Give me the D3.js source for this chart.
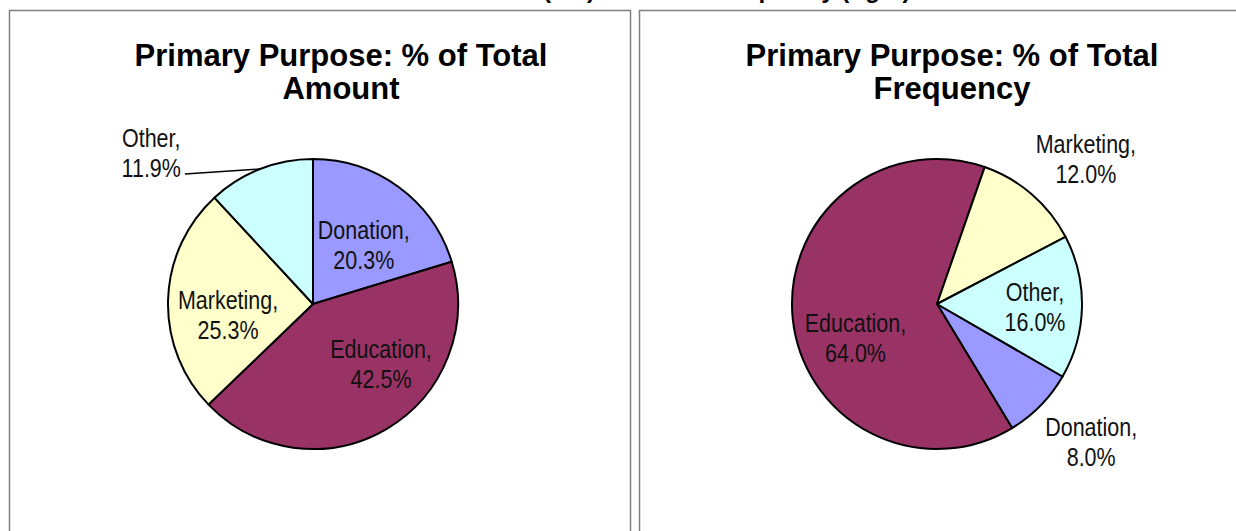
<!DOCTYPE html>
<html>
<head>
<meta charset="utf-8">
<script src="https://cdn.jsdelivr.net/npm/d3@7"></script>
<style>
  html, body { margin: 0; padding: 0; background: #fff; }
  svg { display: block; }
  .title { font-family: "Liberation Sans", Arial, sans-serif; font-weight: bold; fill: #000; }
  .lbl { font-family: "Liberation Sans Narrow", "Arial Narrow", "Liberation Sans", Arial, sans-serif; fill: #111; }
</style>
</head>
<body>
<svg id="chart" width="1236" height="531"></svg>
<script>
// Category names shared by both pies
const categories = ["Donation", "Education", "Marketing", "Other"];
// Share of total dollar amount, percent
const amountValues = [20.3, 42.5, 25.3, 11.9];
// Share of total number of items, percent
const frequencyValues = [8.0, 64.0, 12.0, 16.0];
// Panel titles
const amountTitle = ["Primary Purpose: % of Total", "Amount"];
const frequencyTitle = ["Primary Purpose: % of Total", "Frequency"];
const headerText = "Total Amount (left) and Total Frequency (right)";
const sliceColors = ["#9999FF", "#993366", "#FFFFCC", "#CCFFFF"];

const svg = d3.select("#chart");

// Header line, mostly scrolled above the visible area
const header = svg.append("text").attr("class", "title")
  .attr("font-size", 24).attr("y", -2).text(headerText);
{
  const idx = headerText.indexOf("(left)");
  const off = header.node().getSubStringLength(0, idx);
  header.attr("x", 543 - off);
}

// Panel frames
svg.append("rect").attr("x", 9.5).attr("y", 10.5).attr("width", 621).attr("height", 600)
  .attr("fill", "none").attr("stroke", "#7f7f7f").attr("stroke-width", 1.5);
svg.append("rect").attr("x", 639.5).attr("y", 10.5).attr("width", 700).attr("height", 600)
  .attr("fill", "none").attr("stroke", "#7f7f7f").attr("stroke-width", 1.5);

const R = 145;
const NARROW = 0.86; // condensed label face
const colour = d3.scaleOrdinal().domain(categories).range(sliceColors);

function drawPie(cfg) {
  const g = svg.append("g").attr("transform", `translate(${cfg.cx},${cfg.cy})`);
  const pie = d3.pie().sort(null).value(d => d.value)
    .startAngle(cfg.start).endAngle(cfg.start + 2 * Math.PI);
  const arcs = pie(categories.map((c, i) => ({ name: c, value: cfg.values[i] })));
  const arc = d3.arc().innerRadius(0).outerRadius(R);
  const labelArc = d3.arc().innerRadius(R * 0.6).outerRadius(R * 0.6);

  g.selectAll("path.slice").data(arcs).join("path")
    .attr("class", "slice")
    .attr("d", arc)
    .attr("fill", d => colour(d.data.name))
    .attr("stroke", "#000").attr("stroke-width", 2).attr("stroke-linejoin", "round");

  // Title
  const t = svg.append("text").attr("class", "title").attr("font-size", cfg.titleSize)
    .attr("text-anchor", "middle");
  cfg.title.forEach((line, i) => {
    t.append("tspan").attr("x", cfg.titleX).attr("y", cfg.titleY + i * cfg.titleGap).text(line);
  });

  // Data labels
  arcs.forEach((d, i) => {
    const c = labelArc.centroid(d);
    const n = cfg.nudge[i];
    const lx = c[0] + n[0], ly = c[1] + n[1];
    const txt = g.append("text").attr("class", "lbl").attr("font-size", 25)
      .attr("text-anchor", "middle")
      .attr("transform", `translate(${lx},${ly}) scale(${NARROW},1)`);
    txt.append("tspan").attr("x", 0).attr("y", -6).text(d.data.name + ",");
    txt.append("tspan").attr("x", 0).attr("y", 24).text(d3.format(".1f")(d.data.value) + "%");
    if (cfg.leader && cfg.leader[i]) {
      const a = (d.startAngle + d.endAngle) / 2;
      const edge = [R * Math.sin(a), -R * Math.cos(a)];
      const w = txt.select("tspan:last-child").node().getComputedTextLength() * NARROW;
      g.append("line")
        .attr("x1", lx + w / 2 + 4).attr("y1", ly + 21)
        .attr("x2", edge[0]).attr("y2", edge[1])
        .attr("stroke", "#000").attr("stroke-width", 1.5);
    }
  });
}

drawPie({
  cx: 313, cy: 304, start: 0, values: amountValues,
  title: amountTitle, titleX: 341, titleY: 66, titleGap: 33, titleSize: 31,
  nudge: [[-1, 11], [24, -15], [2, 13], [-130, -70]],
  leader: [false, false, false, true]
});
drawPie({
  cx: 937, cy: 304, start: 2 * Math.PI / 3, values: frequencyValues,
  title: frequencyTitle, titleX: 952, titleY: 66, titleGap: 33, titleSize: 31,
  nudge: [[92, 77], [5, 25], [92, -79], [11, 1]],
  leader: [false, false, false, false]
});
</script>
</body>
</html>
